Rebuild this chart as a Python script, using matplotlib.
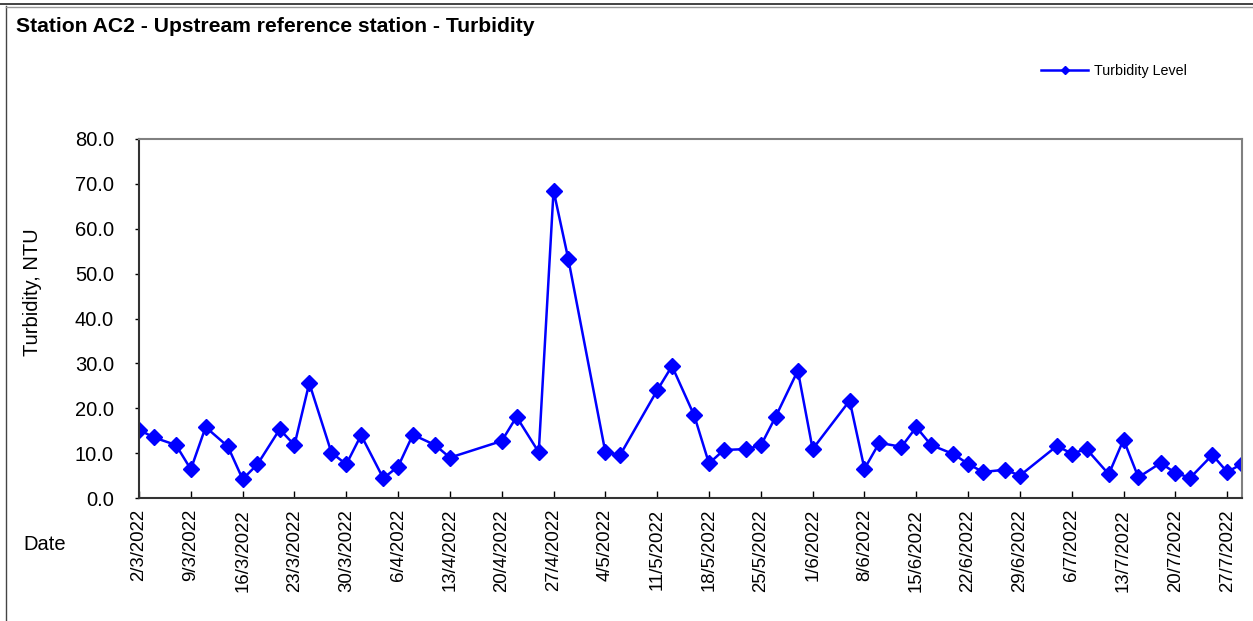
import matplotlib
matplotlib.use("Agg")
import matplotlib.pyplot as plt
from matplotlib.lines import Line2D
import pandas as pd

plt.rcParams['font.family'] = ['Liberation Sans', 'DejaVu Sans']

dates = ["2/3/2022", "4/3/2022", "7/3/2022", "9/3/2022", "11/3/2022", "14/3/2022",
         "16/3/2022", "18/3/2022", "21/3/2022", "23/3/2022", "25/3/2022", "28/3/2022",
         "30/3/2022", "1/4/2022", "4/4/2022", "6/4/2022", "8/4/2022", "11/4/2022",
         "13/4/2022", "20/4/2022", "22/4/2022", "25/4/2022", "27/4/2022", "29/4/2022",
         "4/5/2022", "6/5/2022", "11/5/2022", "13/5/2022", "16/5/2022", "18/5/2022",
         "20/5/2022", "23/5/2022", "25/5/2022", "27/5/2022", "30/5/2022", "1/6/2022",
         "6/6/2022", "8/6/2022", "10/6/2022", "13/6/2022", "15/6/2022", "17/6/2022",
         "20/6/2022", "22/6/2022", "24/6/2022", "27/6/2022", "29/6/2022", "4/7/2022",
         "6/7/2022", "8/7/2022", "11/7/2022", "13/7/2022", "15/7/2022", "18/7/2022",
         "20/7/2022", "22/7/2022", "25/7/2022", "27/7/2022", "29/7/2022"]
turbidity = [15.2, 13.5, 11.8, 6.4, 15.8, 11.5,
             4.2, 7.5, 15.3, 11.8, 25.6, 10.1,
             7.5, 14.0, 4.4, 7.0, 14.1, 11.8,
             9.0, 12.7, 18.1, 10.2, 68.5, 53.2,
             10.2, 9.6, 24.0, 29.4, 18.4, 7.7,
             10.7, 10.9, 11.7, 18.1, 28.4, 10.9,
             21.7, 6.5, 12.3, 11.4, 15.8, 11.8,
             9.8, 7.6, 5.8, 6.3, 5.0, 11.6,
             9.9, 10.9, 5.3, 13.0, 4.6, 7.8,
             5.6, 4.5, 9.6, 5.8, 7.6]
tick_start = "2/3/2022"
tick_end = "27/7/2022"
y_ticks = [0, 10, 20, 30, 40, 50, 60, 70, 80]

x = pd.to_datetime(dates, format="%d/%m/%Y")

fig = plt.figure(figsize=(12.53, 6.21), dpi=100)
ax = fig.add_axes([139/1253, 1 - 498/621, (1242 - 139)/1253, (498 - 139)/621])

ax.plot(x, turbidity, color='#0000FF', lw=1.8, marker='D', markersize=7.8,
        label='Turbidity Level')

ax.set_ylim(0, 80)
ax.set_yticks(y_ticks)
ax.set_yticklabels([f"{v:.1f}" for v in y_ticks], fontsize=14.5)
ax.set_xlim(pd.Timestamp(2022, 3, 2), pd.Timestamp(2022, 7, 29))
xt = pd.date_range(pd.to_datetime(tick_start, format="%d/%m/%Y"),
                   pd.to_datetime(tick_end, format="%d/%m/%Y"), freq='7D')
ax.set_xticks(xt)
ax.set_xticklabels([f"{d.day}/{d.month}/{d.year}" for d in xt], rotation=90, fontsize=13.4)
ax.tick_params(axis='x', direction='in', length=5, width=1, pad=8, colors='black')
ax.tick_params(axis='y', direction='out', length=3, width=1, pad=15)

for s in ['left', 'bottom']:
    ax.spines[s].set_color('#333333')
    ax.spines[s].set_linewidth(1.5)
for s in ['top', 'right']:
    ax.spines[s].set_color('#808080')
    ax.spines[s].set_linewidth(1.5)

fig.text(33/1253, 1 - 292/621, 'Turbidity, NTU', fontsize=14.5, rotation=90,
         va='center', ha='center')
fig.text(23/1253, 1 - 545/621, 'Date', fontsize=14.5, va='center', ha='left')
fig.text(16/1253, 1 - 26/621, 'Station AC2 - Upstream reference station - Turbidity',
         fontsize=15.2, fontweight='bold', va='center', ha='left')

leg = fig.legend(loc='center left', bbox_to_anchor=(1041/1253, 1 - 71/621),
                 frameon=False, fontsize=10.3, handlelength=3.3, handletextpad=0.4,
                 borderpad=0, borderaxespad=0, markerscale=0.55)

# chart border
fig.add_artist(Line2D([6/1253, 6/1253], [0, 1 - 6/621], transform=fig.transFigure,
                      color='#444444', lw=1))
fig.add_artist(Line2D([0, 1], [1 - 4/621, 1 - 4/621], transform=fig.transFigure,
                      color='#222222', lw=1.2))
fig.add_artist(Line2D([6/1253, 1], [1 - 7/621, 1 - 7/621], transform=fig.transFigure,
                      color='#999999', lw=1))

fig.savefig('out.png', dpi=100)
